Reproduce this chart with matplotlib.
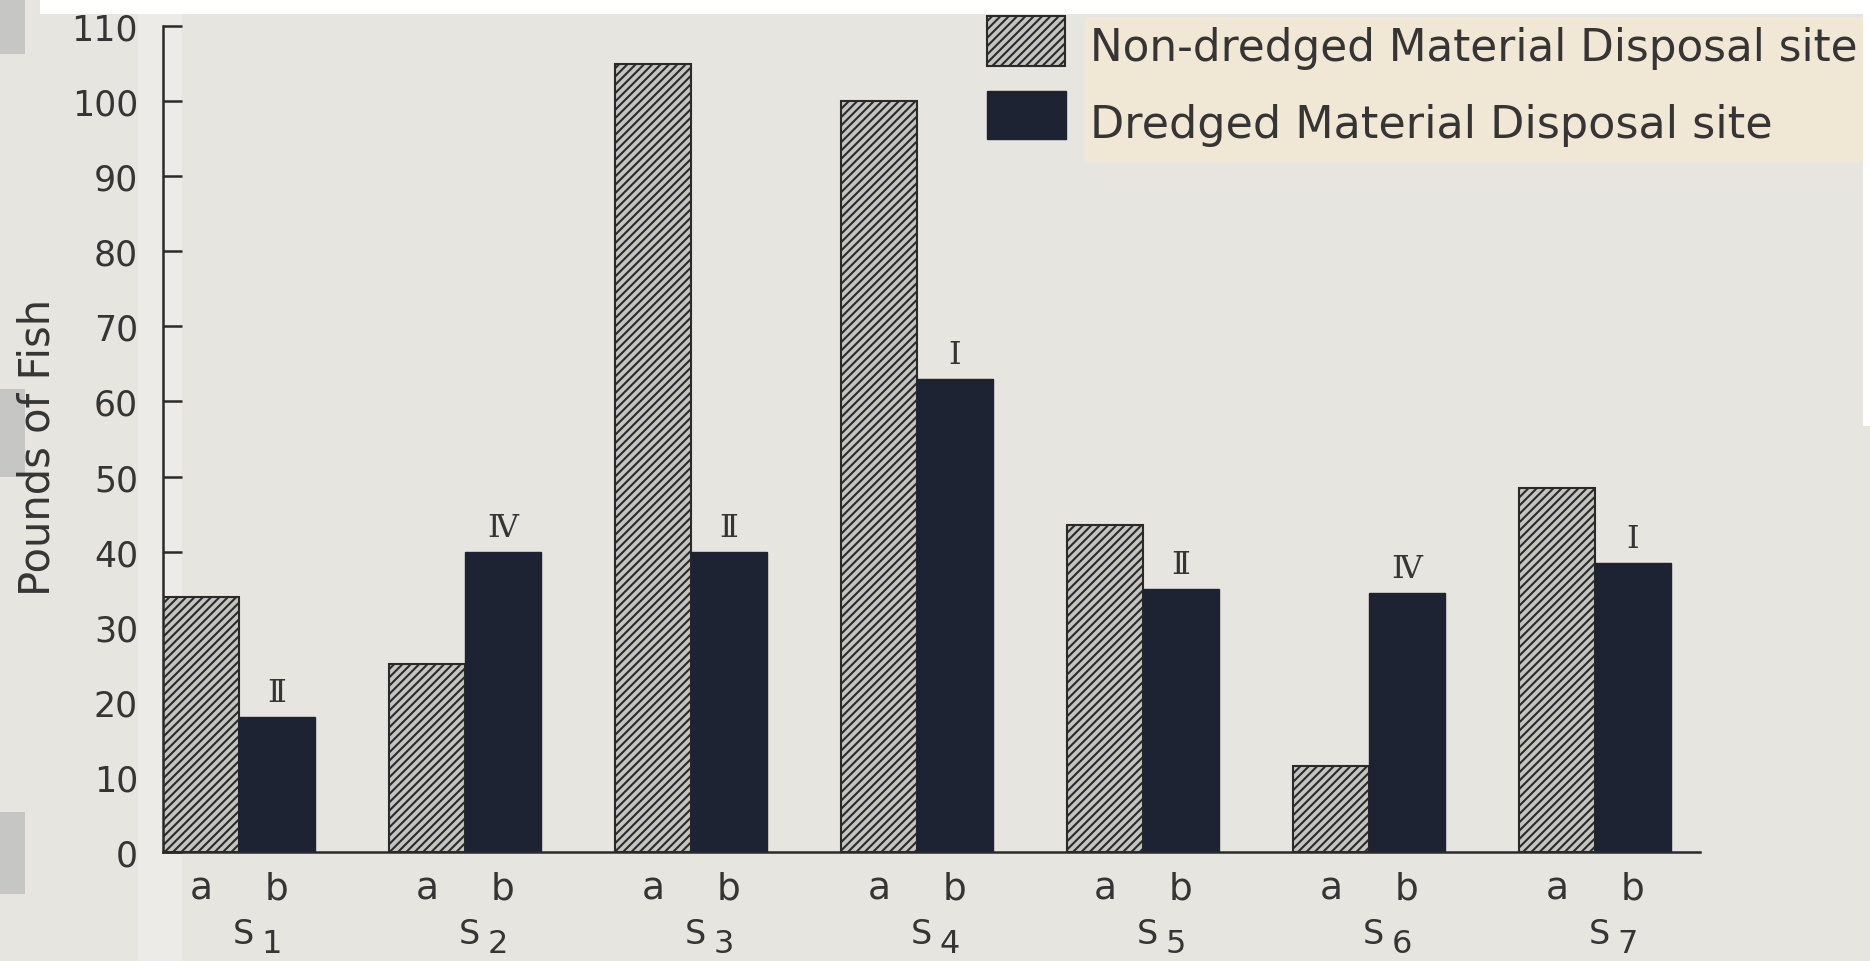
import matplotlib
matplotlib.use("Agg")
import matplotlib.pyplot as plt
import numpy as np
from matplotlib.patches import Rectangle
from matplotlib.transforms import blended_transform_factory

# ---- data -------------------------------------------------------------
site_numbers = ["1", "2", "3", "4", "5", "6", "7"]
non_dredged = [34, 25, 105, 100, 43.5, 11.5, 48.5]      # bar "a"
dredged = [18, 40, 40, 63, 35, 34.5, 38.5]              # bar "b"
site_class = ["\u2161", "\u2163", "\u2161", "\u2160", "\u2161", "\u2163", "\u2160"]
y_ticks = [0, 10, 20, 30, 40, 50, 60, 70, 80, 90, 100, 110]
legend_labels = ["Non-dredged Material Disposal site",
                 "Dredged Material Disposal site"]
y_label = "Pounds of Fish"

# ---- styling ----------------------------------------------------------
W, H = 1870, 962
BG = "#e7e5df"
INK = "#2a2a2a"
TXT = "#353535"
DARK = "#1e2334"
HATCH_FACE = "#c4c4c1"
plt.rcParams["font.family"] = ["DejaVu Sans"]
plt.rcParams["hatch.linewidth"] = 1.5

fig = plt.figure(figsize=(W / 100, H / 100), dpi=100, facecolor=BG)


def fx(x):
    return x / W


def fy(y):
    return 1 - y / H


def paper_rect(x0, y0, x1, y1, color):
    fig.patches.append(Rectangle((fx(x0), fy(y1)), fx(x1) - fx(x0), fy(y0) - fy(y1),
                                 transform=fig.transFigure, facecolor=color,
                                 edgecolor="none", zorder=-5))


# paper details around the drawing
paper_rect(138, 0, 182, H, "#ecebe7")
paper_rect(40, 0, W, 15, "white")
paper_rect(1863, 0, W, 427, "white")
for y0, y1 in [(0, 55), (390, 478), (813, 895)]:
    paper_rect(0, y0, 25, y1, "#c6c6c5")
# cream label strip behind the legend text
paper_rect(1085, 18, 1863, 163, "#f1e7d5")

# ---- axes -------------------------------------------------------------
ax = fig.add_axes([fx(163), fy(853), fx(1700) - fx(163), fy(27) - fy(853)])
ax.set_facecolor("none")

x = np.arange(len(site_numbers))
w = 0.336
ax.bar(x - w / 2, non_dredged, w, facecolor=HATCH_FACE, edgecolor=INK,
       hatch="////", linewidth=1.5, zorder=2)
ax.bar(x + w / 2, dredged, w, facecolor=DARK, edgecolor=DARK, linewidth=1, zorder=2)

ax.set_xlim(-w, 6.465)
ax.set_ylim(0, 110)
ax.set_yticks(y_ticks)
ax.set_xticks([])
ax.tick_params(axis="y", direction="in", length=14, width=1.8, color=INK,
               labelsize=25, labelcolor=TXT, pad=18)
for side in ["top", "right"]:
    ax.spines[side].set_visible(False)
for side in ["left", "bottom"]:
    ax.spines[side].set_color(INK)
    ax.spines[side].set_linewidth(1.8)
    ax.spines[side].set_zorder(3)

# class numerals above the dredged-site bars
for xi, v, c in zip(x, dredged, site_class):
    ax.text(xi + w / 2, v + 2.1, c, ha="center", va="baseline", fontsize=23,
            color=TXT, family=["DejaVu Serif", "DejaVu Sans"])

# bar letters and site names under the axis
tr = blended_transform_factory(ax.transData, fig.transFigure)
for xi, n in zip(x, site_numbers):
    ax.text(xi - w / 2, fy(900), "a", transform=tr, ha="center", va="baseline",
            fontsize=27, color=TXT)
    ax.text(xi + w / 2, fy(900), "b", transform=tr, ha="center", va="baseline",
            fontsize=27, color=TXT)
    ax.text(xi + 0.02, fy(944), "S", transform=tr, ha="center", va="baseline",
            fontsize=24, color=TXT)
    ax.text(xi + 0.1, fy(953), n, transform=tr, ha="left", va="baseline",
            fontsize=23, color=TXT)

fig.text(fx(38), fy(447), y_label, rotation=90, ha="center", va="center",
         fontsize=30, color=TXT)

# ---- legend -----------------------------------------------------------
fig.patches.append(Rectangle((fx(987), fy(67)), fx(1065) - fx(987), fy(17) - fy(67),
                             transform=fig.transFigure, facecolor=HATCH_FACE,
                             edgecolor=INK, hatch="////", linewidth=1.5, zorder=3))
fig.patches.append(Rectangle((fx(987), fy(140)), fx(1066) - fx(987), fy(92) - fy(140),
                             transform=fig.transFigure, facecolor=DARK,
                             edgecolor=DARK, linewidth=1, zorder=3))
fig.text(fx(1090), fy(61), legend_labels[0], ha="left", va="baseline",
         fontsize=31.5, color=TXT)
fig.text(fx(1090), fy(138), legend_labels[1], ha="left", va="baseline",
         fontsize=32, color=TXT)

fig.savefig("out.png", dpi=100, facecolor=BG)
